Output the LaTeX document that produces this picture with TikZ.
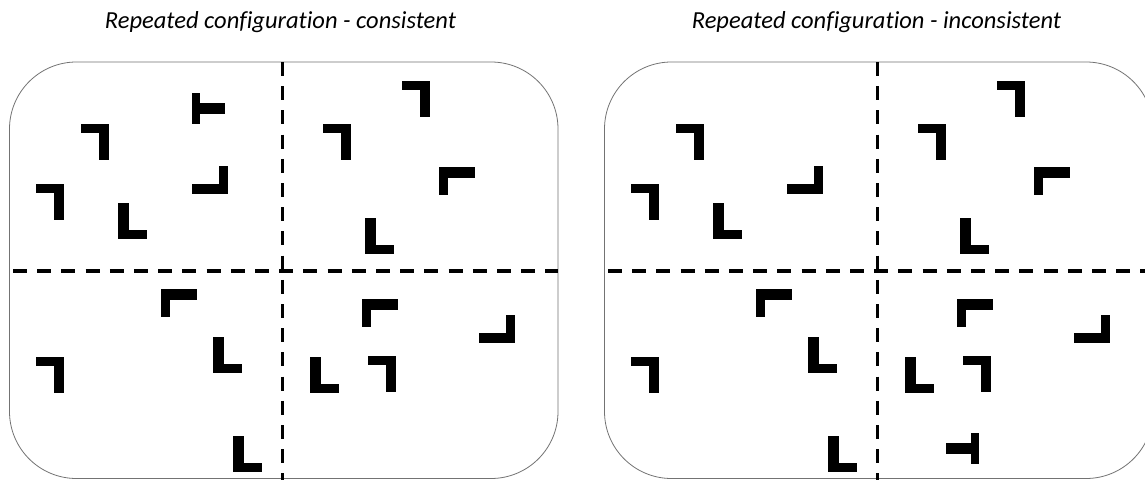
\documentclass[tikz,border=0pt]{standalone}
\usepackage{fontspec}
\setmainfont{Carlito}[Ligatures=NoCommon]
\tikzset{
  panelframe/.style={draw=black!55, line width=0.8pt, rounded corners=67pt},
  divider/.style={line width=3.4pt, dash pattern=on 14pt off 10.2pt},
  paneltitle/.style={font=\fontsize{24.5}{28}\selectfont\itshape, anchor=base, inner sep=0pt},
  % L-shaped and T-shaped glyphs; origin is the top-left corner of each glyph
  pics/glyphL/.style={code={\fill (0,0) rectangle (11,36); \fill (0,27) rectangle (29,36);}},
  pics/glyphRT/.style={code={\fill (0,0) rectangle (28,9); \fill (17.5,0) rectangle (28,36);}},
  pics/glyphLT/.style={code={\fill (0,0) rectangle (36,10.5); \fill (0,0) rectangle (9,28);}},
  pics/glyphRB/.style={code={\fill (0,17.5) rectangle (36,28); \fill (27,0) rectangle (36,28);}},
  pics/glyphTR/.style={code={\fill (0,0) rectangle (8,31); \fill (8,10) rectangle (33,21);}},
  pics/glyphTL/.style={code={\fill (0,10) rectangle (25,20.5); \fill (25,0) rectangle (33.3,31);}},
}
% frame, dividers and the glyphs common to both panels
\newcommand\panelcontent{%
  \draw[panelframe] (9.5,62) rectangle (558,478.5);
  \draw[divider] (13,270.8) -- (558,270.8);
  \draw[divider] (282.7,62) -- (282.7,485);
  % top-left quadrant
  \pic at (81,124) {glyphRT};
  \pic at (36,184) {glyphRT};
  \pic at (118,203) {glyphL};
  \pic at (192,166) {glyphRB};
  % top-right quadrant
  \pic at (402,81) {glyphRT};
  \pic at (323,124) {glyphRT};
  \pic at (439,167) {glyphLT};
  \pic at (365,218) {glyphL};
  % bottom-left quadrant
  \pic at (161,289) {glyphLT};
  \pic at (213,337) {glyphL};
  \pic at (36,357) {glyphRT};
  \pic at (233,436) {glyphL};
  % bottom-right quadrant
  \pic at (362,299) {glyphLT};
  \pic at (479,315) {glyphRB};
  \pic at (310,357) {glyphL};
  \pic at (368,356) {glyphRT};
}
\begin{document}
\begin{tikzpicture}[x=1pt,y=-1pt]
  \useasboundingbox (0,0) rectangle (1145,479);
  \clip (0,0) rectangle (1145,479);
  \fill[white] (0,0) rectangle (1145,479);

  % left panel: consistent
  \node[paneltitle] (tleft) at (280.5,28) {Repeated configuration - consistent};
  \begin{scope}
    \panelcontent
    \pic at (192,93) {glyphTR};
  \end{scope}

  % right panel: inconsistent
  \node[paneltitle] (tright) at (876.5,28) {Repeated configuration - inconsistent};
  \begin{scope}[xshift=595pt]
    \panelcontent
    \pic at (351,433) {glyphTL};
  \end{scope}
\end{tikzpicture}
\end{document}
